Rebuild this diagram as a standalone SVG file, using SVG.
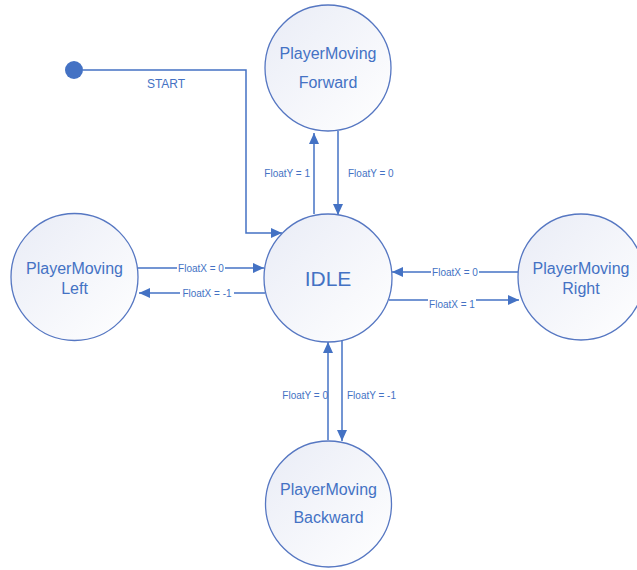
<svg xmlns="http://www.w3.org/2000/svg" width="637" height="570" viewBox="0 0 637 570">
<style>
.node circle{fill:url(#g);stroke:#5677c2;stroke-width:1.3}
.nt{font-family:"Liberation Sans",Arial,sans-serif;font-size:16px;fill:#4472c4;text-anchor:middle}
.lb{font-family:"Liberation Sans",Arial,sans-serif;font-size:10px;fill:#4472c4}
.c{fill:none;stroke:#4472c4;stroke-width:1.5}
.bg{fill:#ffffff}
</style>
<defs>
<linearGradient id="g" x1="0" y1="0" x2="1" y2="1">
<stop offset="0" stop-color="#e9ecf6"/>
<stop offset="1" stop-color="#ffffff"/>
</linearGradient>
<marker id="a" markerUnits="userSpaceOnUse" markerWidth="12" markerHeight="10" refX="11" refY="5" orient="auto">
<path d="M0,0 L11,5 L0,10 Z" fill="#4472c4"/>
</marker>
</defs>
<rect width="637" height="570" fill="#ffffff"/>
<g id="connectors">
<circle cx="74" cy="70" r="9" fill="#4472c4"/>
<path class="c" d="M83,70 H246 V233 H282" marker-end="url(#a)"/>
<text class="lb" x="166" y="88" text-anchor="middle" style="font-size:12px">START</text>
<path class="c" d="M314,214 V133" marker-end="url(#a)"/>
<path class="c" d="M338,131 V215" marker-end="url(#a)"/>
<text class="lb" x="310" y="177" text-anchor="end">FloatY = 1</text>
<text class="lb" x="348" y="177">FloatY = 0</text>
<path class="c" d="M138,268 H264" marker-end="url(#a)"/>
<path class="c" d="M265,293 H139" marker-end="url(#a)"/>
<rect class="bg" x="177" y="263" width="48" height="10"/>
<text class="lb" x="201" y="272" text-anchor="middle">FloatX = 0</text>
<rect class="bg" x="180" y="288" width="54" height="10"/>
<text class="lb" x="207" y="297" text-anchor="middle">FloatX = -1</text>
<path class="c" d="M518,272 H392" marker-end="url(#a)"/>
<path class="c" d="M389,300 H519" marker-end="url(#a)"/>
<rect class="bg" x="431" y="267" width="48" height="10"/>
<text class="lb" x="455" y="276" text-anchor="middle">FloatX = 0</text>
<rect class="bg" x="428" y="299" width="48" height="10"/>
<text class="lb" x="452" y="308" text-anchor="middle">FloatX = 1</text>
<path class="c" d="M328,440 V342" marker-end="url(#a)"/>
<path class="c" d="M342,341 V441" marker-end="url(#a)"/>
<text class="lb" x="328" y="399" text-anchor="end">FloatY = 0</text>
<text class="lb" x="347" y="399">FloatY = -1</text>
</g>
<g id="forward" class="node">
<circle cx="328" cy="68" r="63"/>
<text class="nt" x="328" y="59">PlayerMoving</text>
<text class="nt" x="328" y="88">Forward</text>
</g>
<g id="idle" class="node">
<circle cx="328" cy="278" r="64"/>
<text class="nt" x="328" y="286" style="font-size:21px">IDLE</text>
</g>
<g id="left" class="node">
<circle cx="74.5" cy="277" r="63.5"/>
<text class="nt" x="74.5" y="274">PlayerMoving</text>
<text class="nt" x="74.5" y="294">Left</text>
</g>
<g id="right" class="node">
<circle cx="581" cy="277" r="63"/>
<text class="nt" x="581" y="274">PlayerMoving</text>
<text class="nt" x="581" y="294">Right</text>
</g>
<g id="backward" class="node">
<circle cx="328.5" cy="504" r="63"/>
<text class="nt" x="328.5" y="495">PlayerMoving</text>
<text class="nt" x="328.5" y="523">Backward</text>
</g>
</svg>
